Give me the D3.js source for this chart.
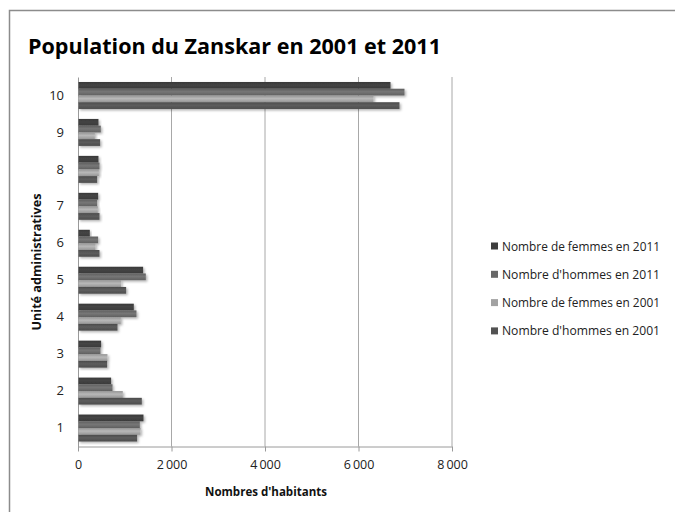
<!DOCTYPE html>
<html>
<head>
<meta charset="utf-8">
<script src="https://cdn.jsdelivr.net/npm/d3@7"></script>
<style>
  body { margin: 0; background: #fff; }
  text { font-family: "Open Sans", "DejaVu Sans", sans-serif; }
</style>
</head>
<body>
<div class="chart-container"></div>
<script>
// unités administratives 1..10
const categories = ['1', '2', '3', '4', '5', '6', '7', '8', '9', '10'];
// valeurs (estimées)
const femmes2011 = [1390, 698, 484, 1183, 1382, 242, 420, 427, 427, 6674];
const hommes2011 = [1312, 727, 470, 1240, 1440, 420, 399, 449, 477, 6973];
const femmes2001 = [1326, 948, 620, 905, 912, 363, 413, 435, 349, 6310];
const hommes2001 = [1254, 1354, 612, 834, 1019, 449, 449, 399, 463, 6866];
const seriesNames = ['Nombre de femmes en 2011', "Nombre d'hommes en 2011", 'Nombre de femmes en 2001', "Nombre d'hommes en 2001"];
const xTicks = [0, 2000, 4000, 6000, 8000];

const seriesValues = [femmes2011, hommes2011, femmes2001, hommes2001];
const seriesColors = ['#3d3d3d', '#686868', '#a2a2a2', '#525252'];

const svg_width = 675, svg_height = 512;
const plot = { left: 78, right: 452, top: 77, bottom: 446.5 };

const svg = d3.select('.chart-container').append('svg')
    .attr('width', svg_width).attr('height', svg_height);

// dégradés + ombre des barres
const defs = svg.append('defs');
seriesColors.forEach((c, i) => {
    const g = defs.append('linearGradient').attr('id', `grad${i}`)
        .attr('x1', 0).attr('y1', 0).attr('x2', 0).attr('y2', 1);
    g.append('stop').attr('offset', '0%').attr('stop-color', d3.color(c).darker(0.25));
    g.append('stop').attr('offset', '45%').attr('stop-color', d3.color(c).brighter(0.35));
    g.append('stop').attr('offset', '100%').attr('stop-color', d3.color(c).darker(0.2));
});
const shadow = defs.append('filter').attr('id', 'shadow')
    .attr('x', '-5%').attr('y', '-30%').attr('width', '120%').attr('height', '180%');
shadow.append('feDropShadow').attr('dx', 1.5).attr('dy', 1.5)
    .attr('stdDeviation', 1).attr('flood-color', '#000').attr('flood-opacity', 0.3);

// cadre
svg.append('rect').attr('x', 9.5).attr('y', 10.5).attr('width', 720).attr('height', 540)
    .attr('fill', 'none').attr('stroke', '#8c8c8c').attr('stroke-width', 1.5);

// titre
svg.append('text').attr('x', 28).attr('y', 54)
    .attr('textLength', 413).attr('lengthAdjust', 'spacingAndGlyphs')
    .style('font-size', '22px').style('font-weight', 'bold').style('fill', '#000')
    .text('Population du Zanskar en 2001 et 2011');

// échelles
const xScale = d3.scaleLinear().domain([0, 8000]).range([plot.left, plot.right]);
const yScale = d3.scaleBand().domain(categories.slice().reverse())
    .range([plot.top, plot.bottom]).paddingInner(0.27).paddingOuter(0.135);
const ySub = d3.scaleBand().domain(d3.range(seriesNames.length)).range([0, yScale.bandwidth()]);

// grille
svg.append('g').attr('class', 'grid').selectAll('line').data(xTicks.slice(1)).enter()
    .append('line')
    .attr('x1', d => xScale(d)).attr('x2', d => xScale(d))
    .attr('y1', plot.top).attr('y2', plot.bottom)
    .attr('stroke', '#a8a8a8').attr('stroke-width', 1);

// axe X
const xAxis = d3.axisBottom(xScale).tickValues(xTicks).tickSizeInner(5).tickSizeOuter(0)
    .tickFormat(d => d3.format(',')(d).replace(',', '\u2009'));
const xAxisDraw = svg.append('g').attr('class', 'x axis')
    .attr('transform', `translate(0,${plot.bottom})`).call(xAxis);
xAxisDraw.select('.domain').attr('stroke', '#9a9a9a');
xAxisDraw.selectAll('.tick line').attr('stroke', '#9a9a9a');
xAxisDraw.selectAll('.tick text').attr('y', 14).style('font-size', '12.5px').style('fill', '#222')
    .style('font-family', '"Open Sans", sans-serif');

// axe Y
const yAxis = d3.axisLeft(yScale).tickSize(0).tickPadding(14);
const yAxisDraw = svg.append('g').attr('class', 'y axis')
    .attr('transform', `translate(${plot.left},0)`).call(yAxis);
yAxisDraw.select('.domain').attr('stroke', '#9a9a9a');
yAxisDraw.selectAll('.tick text').style('font-size', '13px').style('fill', '#222')
    .style('font-family', '"Open Sans", sans-serif');

// barres
const groups = svg.append('g').attr('class', 'bars').selectAll('.cat').data(categories).enter()
    .append('g').attr('class', 'cat')
    .attr('transform', d => `translate(0,${yScale(d)})`);
groups.selectAll('rect').data((d, ci) => seriesValues.map((vals, si) => ({ si, value: vals[ci] })))
    .enter().append('rect')
    .attr('x', xScale(0) + 0.5)
    .attr('y', d => ySub(d.si))
    .attr('width', d => xScale(d.value) - xScale(0))
    .attr('height', ySub.bandwidth())
    .attr('fill', d => `url(#grad${d.si})`)
    .attr('filter', 'url(#shadow)');

// titres des axes
svg.append('text').attr('x', 266).attr('y', 496).attr('text-anchor', 'middle')
    .attr('textLength', 122).attr('lengthAdjust', 'spacingAndGlyphs')
    .style('font-size', '12px').style('font-weight', 'bold').style('fill', '#111')
    .text("Nombres d'habitants");
svg.append('text').attr('transform', 'translate(41,262) rotate(-90)').attr('text-anchor', 'middle')
    .attr('textLength', 137).attr('lengthAdjust', 'spacingAndGlyphs')
    .style('font-size', '12px').style('font-weight', 'bold').style('fill', '#111')
    .text('Unité administratives');

// légende
const legend = svg.append('g').attr('class', 'legend').selectAll('g').data(seriesNames).enter()
    .append('g').attr('transform', (d, i) => `translate(491,${246 + i * 28.3})`);
legend.append('rect').attr('x', 0).attr('y', -3.5).attr('width', 7).attr('height', 7)
    .attr('fill', (d, i) => seriesColors[i]);
legend.append('text').attr('x', 11).attr('y', 0).style('dominant-baseline', 'central')
    .attr('textLength', 158).attr('lengthAdjust', 'spacingAndGlyphs')
    .style('font-size', '12.5px').style('fill', '#222').text(d => d);
</script>
</body>
</html>
